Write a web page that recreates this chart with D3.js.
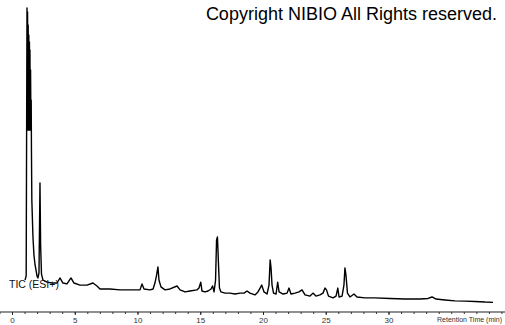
<!DOCTYPE html>
<html>
<head>
<meta charset="utf-8">
<script src="https://cdn.jsdelivr.net/npm/d3@7"></script>
<style>
  html, body { margin: 0; padding: 0; background: #fff; }
  svg { display: block; font-family: "Liberation Sans", Arial, sans-serif; }
</style>
</head>
<body>
<script>
// retention time (min) and relative intensity (%)
const times = [
  1.00, 1.09, 1.155, 1.18, 1.20, 1.23, 1.25, 1.27, 1.30, 1.32, 1.35, 1.37, 1.39, 1.42, 1.44, 1.47, 1.49, 1.51, 1.54,
  1.63, 1.71, 1.79, 1.87, 1.95, 2.03,
  2.11, 2.15, 2.19, 2.24, 2.31, 2.43, 2.75, 3.15, 3.55, 3.78, 4.02, 4.34, 4.66, 4.90, 5.38, 5.94, 6.41, 6.73, 6.97,
  7.77, 8.57, 9.36, 10.16, 10.32, 10.48, 10.96, 11.20, 11.35, 11.47, 11.59, 11.67, 11.83, 12.15, 12.55, 13.11, 13.35,
  13.75, 14.14, 14.70, 14.86, 15.00, 15.10, 15.34, 15.58, 15.82, 15.94, 16.06, 16.18, 16.26, 16.33, 16.41, 16.49,
  16.61, 16.93, 17.33, 17.73, 18.13, 18.45, 18.69, 18.92, 19.32, 19.56, 19.86, 20.04, 20.28, 20.44, 20.53, 20.60,
  20.68, 20.80, 21.00, 21.13, 21.24, 21.56, 21.88, 22.03, 22.19, 22.51, 22.83, 23.07, 23.31, 23.71, 23.94, 24.18,
  24.50, 24.74, 24.90, 25.02, 25.18, 25.54, 25.78, 25.92, 26.02, 26.26, 26.41, 26.49, 26.57, 26.69, 26.89, 27.21,
  27.45, 28.09, 28.88, 30.08, 31.27, 32.47, 33.11, 33.43, 33.75, 34.46, 35.26, 36.06, 36.85, 37.65, 38.29
];
const intensity = [
  8.4, 9.8, 100, 58.9, 98.7, 58.9, 94.3, 58.9, 90.9, 58.9, 88.6, 58.9, 85.9, 58.9, 79.1, 58.9, 69.0, 52.2, 35.4,
  22.9, 16.8, 13.8, 11.8, 9.8, 9.1,
  10.8, 25.3, 41.1, 20.2, 10.4, 8.4, 7.7, 7.4, 7.4, 9.1, 7.4, 7.1, 9.1, 7.4, 6.7, 6.7, 7.4, 6.4, 5.4,
  5.4, 5.1, 5.1, 5.1, 7.1, 5.4, 5.1, 5.4, 7.4, 9.8, 12.8, 8.4, 6.1, 5.1, 5.4, 6.4, 5.1,
  4.4, 4.7, 5.1, 5.7, 7.7, 4.7, 4.4, 4.7, 5.4, 6.4, 4.4, 8.4, 21.9, 22.9, 14.1, 5.7,
  4.4, 4.0, 4.0, 3.7, 4.0, 4.0, 4.7, 4.0, 3.4, 4.4, 6.7, 4.4, 3.7, 6.7, 15.2, 12.5,
  6.7, 4.0, 3.7, 7.7, 4.4, 3.7, 4.0, 5.7, 3.7, 4.0, 4.4, 5.1, 3.4, 3.0, 4.0, 3.0,
  3.4, 4.0, 5.7, 5.1, 3.0, 2.4, 3.0, 5.7, 2.7, 3.0, 6.7, 12.5, 10.1, 4.0, 2.7, 3.7,
  2.7, 2.4, 2.4, 2.2, 2.0, 2.0, 2.2, 2.7, 2.0, 1.7, 1.4, 1.3, 1.2, 1.0, 0.9
];
const majorTicks = [0, 5, 10, 15, 20, 25, 30];
const minorTicks = d3.range(-1, 40);
const traceLabel = "TIC (ESI+)";
const axisTitle = "Retention Time (min)";
const copyright = "Copyright NIBIO All Rights reserved.";

const width = 505;
const height = 325;
const axisY = 312;

const svg = d3.select("body").append("svg")
  .attr("width", width)
  .attr("height", height);

const x = d3.scaleLinear().domain([0, 38]).range([12.5, 12.5 + 38 * 12.55]);
const y = d3.scaleLinear().domain([0, 100]).range([305, 8]);

const points = times.map((t, i) => [t, intensity[i]]);

// chromatogram trace
svg.append("path")
  .datum(points)
  .attr("fill", "none")
  .attr("stroke", "#000")
  .attr("stroke-width", 1.4)
  .attr("stroke-linejoin", "round")
  .attr("d", d3.line().x(d => x(d[0])).y(d => y(d[1])));

// axis line across the whole width
svg.append("line")
  .attr("x1", 0).attr("x2", width)
  .attr("y1", axisY).attr("y2", axisY)
  .attr("stroke", "#222").attr("stroke-width", 1);

// minor ticks every minute
svg.append("g")
  .selectAll("line")
  .data(minorTicks)
  .join("line")
  .attr("x1", d => x(d)).attr("x2", d => x(d))
  .attr("y1", axisY).attr("y2", axisY + 2)
  .attr("stroke", "#333");

// major ticks and labels
const major = svg.append("g")
  .selectAll("g")
  .data(majorTicks)
  .join("g")
  .attr("transform", d => `translate(${x(d)},${axisY})`);

major.append("line")
  .attr("y1", 0).attr("y2", 3)
  .attr("stroke", "#222");

major.append("text")
  .attr("y", 11)
  .attr("text-anchor", "middle")
  .attr("font-size", 8)
  .attr("fill", "#333")
  .text(d => d);

svg.append("text")
  .attr("x", 502)
  .attr("y", 322)
  .attr("text-anchor", "end")
  .attr("font-size", 7)
  .attr("fill", "#333")
  .text(axisTitle);

svg.append("text")
  .attr("x", 9)
  .attr("y", 288)
  .attr("font-size", 10.5)
  .attr("fill", "#111")
  .text(traceLabel);

svg.append("text")
  .attr("x", 497)
  .attr("y", 20)
  .attr("text-anchor", "end")
  .attr("font-size", 18)
  .attr("fill", "#000")
  .text(copyright);
</script>
</body>
</html>
